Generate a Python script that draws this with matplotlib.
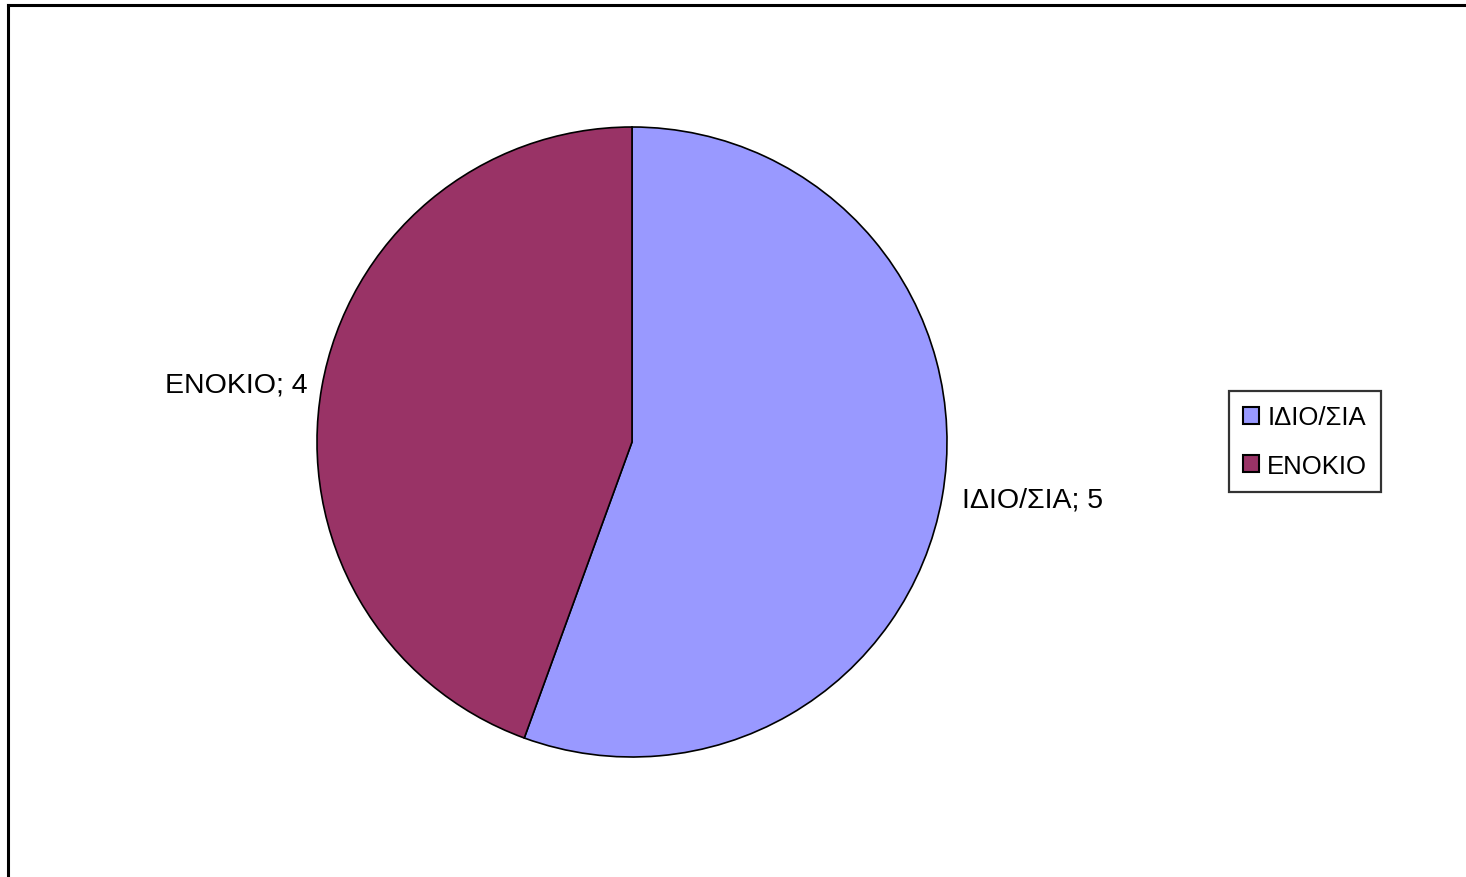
import matplotlib
matplotlib.use('Agg')
import matplotlib.pyplot as plt
from matplotlib.patches import Patch
from matplotlib.lines import Line2D

plt.rcParams['font.family'] = ['Liberation Sans', 'DejaVu Sans']

# data
categories = ['ΙΔΙΟ/ΣΙΑ', 'ΕΝΟΚΙΟ']
values = [5, 4]
colors = ['#9999FF', '#993366']

W, H = 1466, 878
fig = plt.figure(figsize=(W / 100, H / 100), dpi=100)

# outer frame (top and left edges only visible)
fig.add_artist(Line2D([7.5 / W, 7.5 / W], [0, 1 - 6 / H], transform=fig.transFigure,
                      color='black', lw=2.2))
fig.add_artist(Line2D([7.5 / W, 1], [1 - 6 / H, 1 - 6 / H], transform=fig.transFigure,
                      color='black', lw=2.2))

# pie axes: centre (632, 443), radius 315 px
cx, cy, r = 632, 443, 315
ax = fig.add_axes([(cx - r) / W, 1 - (cy + r) / H, 2 * r / W, 2 * r / H])
ax.pie(values, colors=colors, startangle=90, counterclock=False, radius=1,
       wedgeprops=dict(edgecolor='black', linewidth=1.2))
ax.set_xlim(-1, 1)
ax.set_ylim(-1, 1)
ax.set_aspect('equal')
ax.axis('off')

# data labels
ax.text(1.048, -0.181, f'{categories[0]}; {values[0]}', ha='left', va='center',
        fontsize=20.5, clip_on=False)
ax.text(-1.029, 0.181, f'{categories[1]}; {values[1]}', ha='right', va='center',
        fontsize=20.5, clip_on=False)

# legend
handles = [Patch(facecolor=c, edgecolor='black', linewidth=1.5) for c in colors]
leg = fig.legend(handles, categories, loc='center',
                 bbox_to_anchor=(1305 / W, 1 - 442.5 / H),
                 fontsize=18.5, frameon=True, fancybox=False,
                 handlelength=0.65, handleheight=0.65, handletextpad=0.3,
                 labelspacing=0.95, borderpad=0.55, borderaxespad=0)
leg.get_frame().set_edgecolor('black')
leg.get_frame().set_linewidth(1.6)

fig.savefig('out.png', dpi=100)
